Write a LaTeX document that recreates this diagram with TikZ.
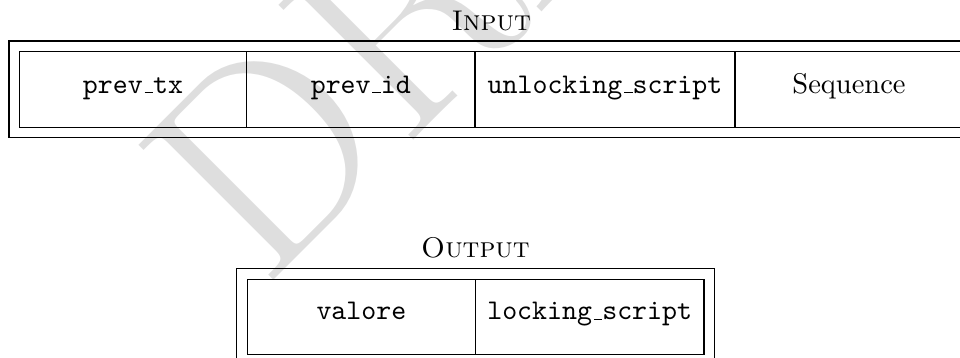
\documentclass[tikz,border=0pt]{standalone}
\usetikzlibrary{fit}
\newcommand\uscore{\leavevmode\kern.06em\vbox{\hrule width.3em}}
\begin{document}
\begin{tikzpicture}[x=0.350877pt,y=0.350877pt,
  boxline/.style={draw=black,line width=0.4pt,inner sep=0pt},
  celltext/.style={anchor=base,inner sep=0pt,font=\ttfamily},
  rmtext/.style={anchor=base,inner sep=0pt,font=\rmfamily},
  titletext/.style={anchor=base,inner sep=0pt,font=\scshape},
  watermark/.style={anchor=base west,inner sep=0pt,text=black!13,font=\fontsize{98}{98}\selectfont}]
\useasboundingbox (0,0) rectangle (960,-358);
\clip (0,0) rectangle (960,-358);
% watermark
\node[watermark,rotate=45] (wm) at (263,-291) {DRAFT};
% INPUT
\node[titletext] (intitle) at (491.3,-30.7) {Input};
\node[boxline,fit={(9,-41) (973,-137.3)}] (inouter) {};
\node[boxline,fit={(19.3,-51.7) (246.7,-127.3)}] (c1) {};
\node[boxline,fit={(246.7,-51.7) (475,-127.3)}] (c2) {};
\node[boxline,fit={(475,-51.7) (735,-127.3)}] (c3) {};
\node[boxline,fit={(735,-51.7) (963,-127.3)}] (c4) {};
\node[celltext] (t1) at (133,-93.5) {prev\uscore tx};
\node[celltext] (t2) at (360.8,-93.5) {prev\uscore id};
\node[celltext] (t3) at (605,-93.5) {unlocking\uscore script};
\node[rmtext] (t4) at (849,-93.5) {Sequence};
% OUTPUT
\node[titletext] (outtitle) at (475.5,-257.3) {Output};
\node[boxline,fit={(236.7,-268.3) (714.3,-364.3)}] (outouter) {};
\node[boxline,fit={(247.3,-279.3) (475.5,-354.3)}] (d1) {};
\node[boxline,fit={(475.5,-279.3) (704,-354.3)}] (d2) {};
\node[celltext] (u1) at (361.4,-320) {valore};
\node[celltext] (u2) at (589.7,-320) {locking\uscore script};
\end{tikzpicture}
\end{document}
